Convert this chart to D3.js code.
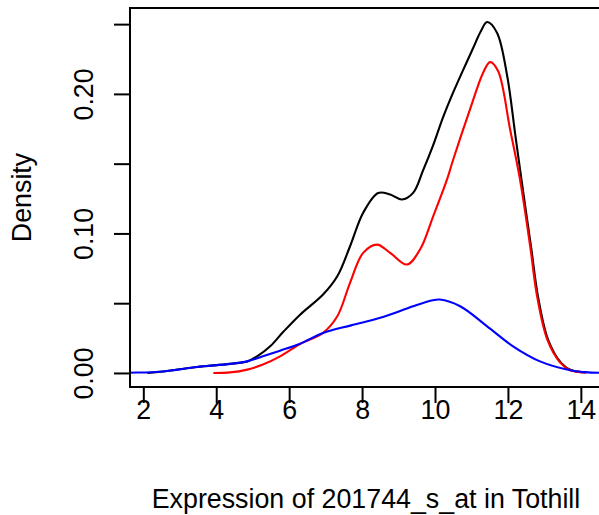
<!DOCTYPE html>
<html>
<head>
<meta charset="utf-8">
<script src="https://cdn.jsdelivr.net/npm/d3@7"></script>
<style>
  body { margin: 0; background: #fff; }
  svg text { font-family: "Liberation Sans", Arial, sans-serif; fill: #000; }
</style>
</head>
<body>
<svg id="chart" width="599" height="515"></svg>
<script>
// ---- data ----
const blackX = [2.11, 2.54, 3.47, 4.38, 4.85, 5.12, 5.48, 5.84, 6.30, 6.93, 7.32, 7.67, 8.03, 8.44, 8.77, 9.09, 9.40, 9.67, 9.94, 10.22, 10.49, 10.77, 11.04, 11.25, 11.43, 11.70, 11.98, 12.20, 12.39, 12.64, 12.83, 13.10, 13.46, 13.74, 14.15];
const blackY = [0.0000, 0.0011, 0.0043, 0.0065, 0.0083, 0.0119, 0.0191, 0.0295, 0.0418, 0.0562, 0.0693, 0.0908, 0.1148, 0.1290, 0.1279, 0.1243, 0.1291, 0.1450, 0.1625, 0.1831, 0.2005, 0.2170, 0.2325, 0.2445, 0.2515, 0.2439, 0.2128, 0.1710, 0.1351, 0.0892, 0.0540, 0.0239, 0.0072, 0.0019, 0.0004];

const redX = [3.92, 4.38, 4.85, 5.28, 5.75, 6.30, 6.93, 7.32, 7.67, 8.03, 8.41, 8.77, 9.23, 9.59, 9.95, 10.33, 10.50, 10.96, 11.32, 11.51, 11.73, 12.06, 12.33, 12.61, 12.80, 13.08, 13.44, 13.71, 14.12];
const redY = [0.0000, 0.0004, 0.0024, 0.0060, 0.0119, 0.0207, 0.0287, 0.0406, 0.0646, 0.0861, 0.0920, 0.0861, 0.0777, 0.0885, 0.1123, 0.1387, 0.1530, 0.1889, 0.2152, 0.2228, 0.2164, 0.1745, 0.1387, 0.0908, 0.0549, 0.0239, 0.0072, 0.0019, 0.0004];

const blueX = [1.20, 1.635, 2.54, 3.47, 4.38, 4.85, 5.28, 5.75, 6.30, 6.93, 7.70, 8.50, 9.40, 9.94, 10.13, 10.69, 11.43, 12.14, 12.88, 13.71, 14.12, 14.50, 15.00];
const blueY = [0.0000, 0.0002, 0.0011, 0.0043, 0.0065, 0.0083, 0.0119, 0.0160, 0.0210, 0.0287, 0.0341, 0.0395, 0.0478, 0.0521, 0.0526, 0.0478, 0.0334, 0.0191, 0.0083, 0.0019, 0.0006, 0.0001, 0.0000];

const xTicks = [2, 4, 6, 8, 10, 12, 14];
const yTicks = [0, 0.05, 0.10, 0.15, 0.20, 0.25];
const yTickLabels = ["0.00", "", "0.10", "", "0.20", ""];
const xTitle = "Expression of 201744_s_at in Tothill";
const yTitle = "Density";

// ---- layout ----
const svg = d3.select("#chart");
const plot = { left: 130, right: 602, top: 8, bottom: 387 };
const fontSize = 26.8;

const x = d3.scaleLinear().domain([1.635, 14.58]).range([plot.left, plot.right]);
const yMax = d3.max(blackY);
const y = d3.scaleLinear().domain([-0.04 * yMax, 1.04 * yMax]).range([plot.bottom, plot.top]);

// clip to plot region
svg.append("defs").append("clipPath").attr("id", "clip")
  .append("rect").attr("x", plot.left).attr("y", plot.top)
  .attr("width", plot.right - plot.left).attr("height", plot.bottom - plot.top);

const line = d3.line().x(d => x(d[0])).y(d => y(d[1])).curve(d3.curveCatmullRom.alpha(0.5));
const g = svg.append("g").attr("clip-path", "url(#clip)");
const series = [
  { xs: blackX, ys: blackY, color: "#000000" },
  { xs: redX, ys: redY, color: "#ff0000" },
  { xs: blueX, ys: blueY, color: "#0000ff" }
];
series.forEach(s => {
  g.append("path")
    .datum(s.xs.map((v, i) => [v, s.ys[i]]))
    .attr("fill", "none").attr("stroke", s.color).attr("stroke-width", 2.1)
    .attr("stroke-linejoin", "round")
    .attr("d", line);
});

// box
svg.append("rect").attr("x", plot.left).attr("y", plot.top)
  .attr("width", plot.right - plot.left).attr("height", plot.bottom - plot.top)
  .attr("fill", "none").attr("stroke", "#000").attr("stroke-width", 2);

// x axis
const xAxis = d3.axisBottom(x).tickValues(xTicks).tickSize(16).tickPadding(4)
  .tickFormat(d3.format("d"));
const xg = svg.append("g").attr("transform", `translate(0,${plot.bottom})`).call(xAxis);
xg.select(".domain").attr("d", `M${x(xTicks[0])},0H${x(xTicks[xTicks.length - 1])}`)
  .attr("stroke-width", 2);
xg.selectAll(".tick line").attr("stroke-width", 2);
xg.selectAll(".tick text").attr("font-size", fontSize).attr("dy", null).attr("y", 32)
  .style("font-family", '"Liberation Sans", Arial, sans-serif');

// y axis
const yAxis = d3.axisLeft(y).tickValues(yTicks).tickSize(16)
  .tickFormat((d, i) => yTickLabels[i]);
const yg = svg.append("g").attr("transform", `translate(${plot.left},0)`).call(yAxis);
yg.select(".domain").attr("d", `M0,${y(yTicks[0])}V${y(yTicks[yTicks.length - 1])}`)
  .attr("stroke-width", 2);
yg.selectAll(".tick line").attr("stroke-width", 2);
yg.selectAll(".tick text")
  .attr("x", null).attr("dy", null)
  .attr("text-anchor", "middle")
  .attr("font-size", fontSize)
  .style("font-family", '"Liberation Sans", Arial, sans-serif')
  .attr("transform", "translate(-37,0) rotate(-90)");

// titles
svg.append("text").attr("x", (plot.left + plot.right) / 2).attr("y", 508)
  .attr("text-anchor", "middle").attr("font-size", fontSize).text(xTitle);
svg.append("text").attr("transform", `translate(31,${(plot.top + plot.bottom) / 2}) rotate(-90)`)
  .attr("text-anchor", "middle").attr("font-size", fontSize).text(yTitle);
</script>
</body>
</html>
